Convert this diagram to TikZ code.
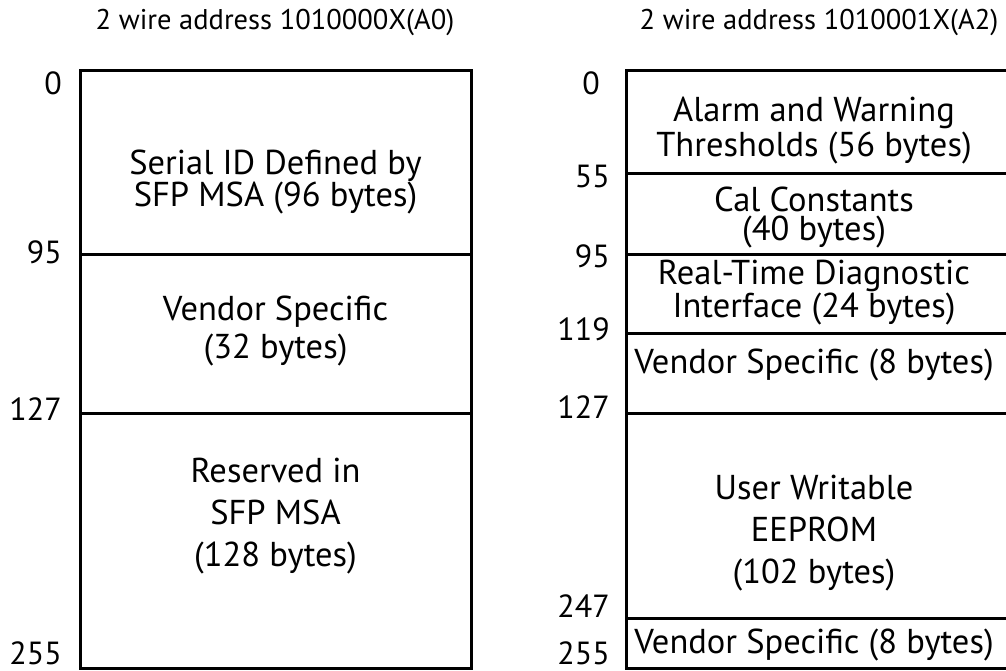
\documentclass[tikz,border=0pt]{standalone}
\usepackage{fontspec}
\setmainfont{PT Sans}
\usepackage{tikz}
\usetikzlibrary{positioning}
\tikzset{memline/.style={line width=3pt}}
\tikzset{blocktext/.style={align=center, inner sep=0pt, font=\fontsize{34.5}{#1}\selectfont}}
\tikzset{offlabel/.style={anchor=base east, inner sep=0pt, font=\fontsize{32}{32}\selectfont}}
\tikzset{addrtitle/.style={inner sep=0pt, font=\fontsize{28.5}{28.5}\selectfont}}

\begin{document}
\begin{tikzpicture}[x=1pt,y=-1pt]
		\useasboundingbox (0,0) rectangle (1006,670);
		% lower page, A0
		\node[addrtitle] (titleA) at (275,22) {2 wire address 1010000X(A0)};
		\draw[memline] (80,70) rectangle (471,668);
		\draw[memline] (80,254) -- (471,254);
		\draw[memline] (80,413) -- (471,413);
		
		\node[offlabel] (offA0) at (62,94) {0};
		\node[offlabel] (offA95) at (62,263) {95};
		\node[offlabel] (offA127) at (62,420) {127};
		\node[offlabel] (offA255) at (62,664) {255};
		
		\node[blocktext=32] (serialid) at (275.5,182) {Serial ID Defined by\\SFP MSA (96 bytes)};
		\node[blocktext=38] (vendorA) at (275.5,331) {Vendor Specific\\(32 bytes)};
		\node[blocktext=42] (reserved) at (275.5,516) {Reserved in\\SFP MSA\\(128 bytes)};
		
		% diagnostics page, A2
		\node[addrtitle] (titleB) at (819,22) {2 wire address 1010001X(A2)};
		\draw[memline] (626,70) rectangle (1012,668);
		\draw[memline] (626,173) -- (1012,173);
		\draw[memline] (626,254) -- (1012,254);
		\draw[memline] (626,333) -- (1012,333);
		\draw[memline] (626,413) -- (1012,413);
		\draw[memline] (626,618) -- (1012,618);
		
		\node[offlabel] (offB0) at (600,94) {0};
		\node[offlabel] (offB55) at (610,187) {55};
		\node[offlabel] (offB95) at (610,267) {95};
		\node[offlabel] (offB119) at (610,340) {119};
		\node[offlabel] (offB127) at (610,418) {127};
		\node[offlabel] (offB247) at (610,617) {247};
		\node[offlabel] (offB255) at (610,664) {255};
		
		\node[blocktext=35] (alarm) at (814,131) {Alarm and Warning\\Thresholds (56 bytes)};
		\node[blocktext=29] (calconst) at (814,218) {Cal Constants\\(40 bytes)};
		\node[blocktext=30] (rtdiag) at (814,293) {Real-Time Diagnostic\\Interface (24 bytes)};
		\node[blocktext=33] (vendorB) at (814,365) {Vendor Specific (8 bytes)};
		\node[blocktext=42] (userrom) at (814,533) {User Writable\\EEPROM\\(102 bytes)};
		\node[blocktext=33] (vendorC) at (814,645) {Vendor Specific (8 bytes)};
	\end{tikzpicture}
\end{document}
